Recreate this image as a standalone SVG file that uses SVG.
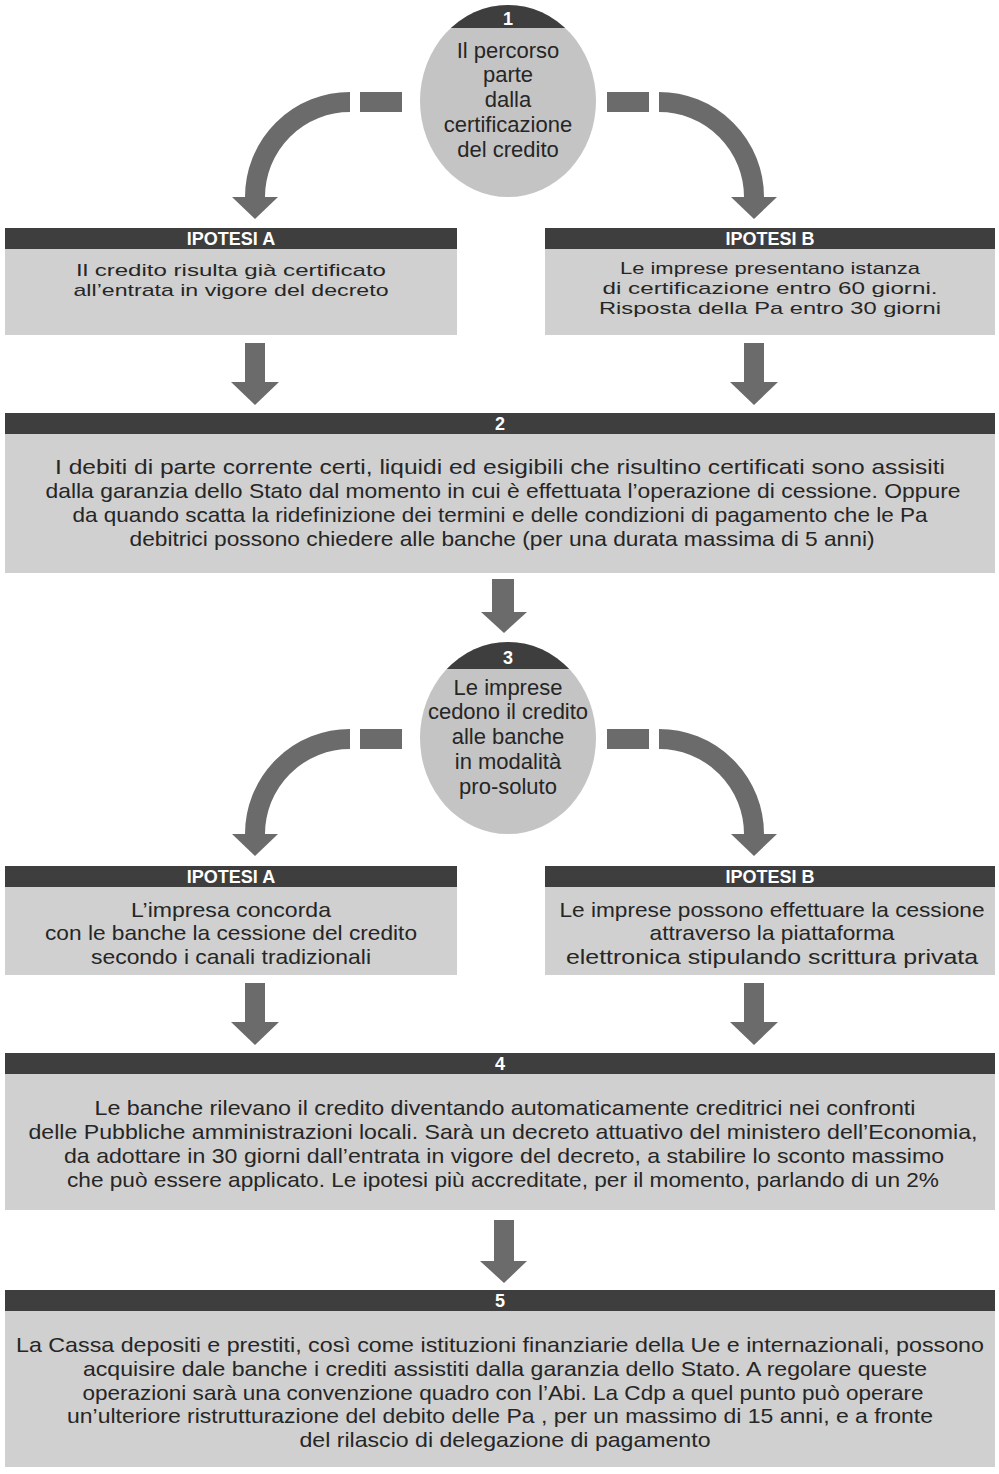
<svg xmlns="http://www.w3.org/2000/svg" width="999" height="1474" viewBox="0 0 999 1474">
<style>
.box{fill:#d0d0d0}
.hd{fill:#3e3e3e}
.circ{fill:#c4c4c4}
.arr{fill:#6b6b6b}
.arc{fill:none;stroke:#6b6b6b;stroke-width:20}
.t{font-family:"Liberation Sans",Arial,sans-serif;font-size:21px;fill:#262626;text-anchor:middle}
.s{font-size:17px}
.ct{font-family:"Liberation Sans",Arial,sans-serif;font-size:22px;fill:#262626;text-anchor:middle}
.h{font-family:"Liberation Sans",Arial,sans-serif;font-size:18px;font-weight:bold;fill:#ffffff;text-anchor:middle}
</style>
<defs>
<clipPath id="c1"><ellipse cx="508" cy="101" rx="88" ry="96"/></clipPath>
<clipPath id="c3"><ellipse cx="508" cy="738" rx="88" ry="96"/></clipPath>
</defs>
<rect x="0" y="0" width="999" height="1474" fill="#ffffff"/>

<g id="connectors">
  <rect class="arr" x="360" y="92" width="42" height="20"/>
  <path class="arc" d="M350,102 A95,95 0 0 0 255,197"/>
  <polygon class="arr" points="232,197 278,197 255,219"/>
  <rect class="arr" x="607" y="92" width="42" height="20"/>
  <path class="arc" d="M659,102 A95,95 0 0 1 754,197"/>
  <polygon class="arr" points="731,197 777,197 754,219"/>
  <rect class="arr" x="245" y="343" width="20" height="40"/>
  <polygon class="arr" points="231,382 279,382 255,405"/>
  <rect class="arr" x="744" y="343" width="20" height="40"/>
  <polygon class="arr" points="730,382 778,382 754,405"/>
  <rect class="arr" x="492" y="579" width="22" height="34"/>
  <polygon class="arr" points="481,612 527,612 504,633"/>
  <rect class="arr" x="360" y="729" width="42" height="20"/>
  <path class="arc" d="M350,739 A95,95 0 0 0 255,834"/>
  <polygon class="arr" points="232,834 278,834 255,856"/>
  <rect class="arr" x="607" y="729" width="42" height="20"/>
  <path class="arc" d="M659,739 A95,95 0 0 1 754,834"/>
  <polygon class="arr" points="731,834 777,834 754,856"/>
  <rect class="arr" x="245" y="983" width="20" height="40"/>
  <polygon class="arr" points="231,1022 279,1022 255,1045"/>
  <rect class="arr" x="744" y="983" width="20" height="40"/>
  <polygon class="arr" points="730,1022 778,1022 754,1045"/>
  <rect class="arr" x="494" y="1220" width="20" height="42"/>
  <polygon class="arr" points="480,1261 527,1261 504,1283"/>
</g>

<g id="node1">
  <ellipse class="circ" cx="508" cy="101" rx="88" ry="96"/>
  <rect class="hd" x="410" y="0" width="200" height="28" clip-path="url(#c1)"/>
  <text class="h" x="508" y="25">1</text>
  <text class="ct" x="508" y="58">Il percorso</text>
  <text class="ct" x="508" y="82">parte</text>
  <text class="ct" x="508" y="107">dalla</text>
  <text class="ct" x="508" y="132">certificazione</text>
  <text class="ct" x="508" y="157">del credito</text>
</g>

<g id="node1a">
  <rect class="box" x="5" y="228" width="452" height="107"/>
  <rect class="hd" x="5" y="228" width="452" height="21"/>
  <text class="h" x="231" y="245">IPOTESI A</text>
  <text class="t s" x="231" y="276" textLength="310" lengthAdjust="spacingAndGlyphs">Il credito risulta già certificato</text>
  <text class="t s" x="231" y="296" textLength="315" lengthAdjust="spacingAndGlyphs">all’entrata in vigore del decreto</text>
</g>

<g id="node1b">
  <rect class="box" x="545" y="228" width="450" height="107"/>
  <rect class="hd" x="545" y="228" width="450" height="21"/>
  <text class="h" x="770" y="245">IPOTESI B</text>
  <text class="t s" x="770" y="274" textLength="300" lengthAdjust="spacingAndGlyphs">Le imprese presentano istanza</text>
  <text class="t s" x="770" y="294" textLength="335" lengthAdjust="spacingAndGlyphs">di certificazione entro 60 giorni.</text>
  <text class="t s" x="770" y="314" textLength="342" lengthAdjust="spacingAndGlyphs">Risposta della Pa entro 30 giorni</text>
</g>

<g id="node2">
  <rect class="box" x="5" y="413" width="990" height="160"/>
  <rect class="hd" x="5" y="413" width="990" height="21"/>
  <text class="h" x="500" y="430">2</text>
  <text class="t" x="500" y="474" textLength="890" lengthAdjust="spacingAndGlyphs">I debiti di parte corrente certi, liquidi ed esigibili che risultino certificati sono assisiti</text>
  <text class="t" x="503" y="498" textLength="915" lengthAdjust="spacingAndGlyphs">dalla garanzia dello Stato dal momento in cui è effettuata l’operazione di cessione. Oppure</text>
  <text class="t" x="500" y="522" textLength="855" lengthAdjust="spacingAndGlyphs">da quando scatta la ridefinizione dei termini e delle condizioni di pagamento che le Pa</text>
  <text class="t" x="502" y="546" textLength="745" lengthAdjust="spacingAndGlyphs">debitrici possono chiedere alle banche (per una durata massima di 5 anni)</text>
</g>

<g id="node3">
  <ellipse class="circ" cx="508" cy="738" rx="88" ry="96"/>
  <rect class="hd" x="410" y="637" width="200" height="32" clip-path="url(#c3)"/>
  <text class="h" x="508" y="664">3</text>
  <text class="ct" x="508" y="695">Le imprese</text>
  <text class="ct" x="508" y="719">cedono il credito</text>
  <text class="ct" x="508" y="744">alle banche</text>
  <text class="ct" x="508" y="769">in modalità</text>
  <text class="ct" x="508" y="794">pro-soluto</text>
</g>

<g id="node3a">
  <rect class="box" x="5" y="866" width="452" height="109"/>
  <rect class="hd" x="5" y="866" width="452" height="21"/>
  <text class="h" x="231" y="883">IPOTESI A</text>
  <text class="t" x="231" y="917" textLength="200" lengthAdjust="spacingAndGlyphs">L’impresa concorda</text>
  <text class="t" x="231" y="940" textLength="372" lengthAdjust="spacingAndGlyphs">con le banche la cessione del credito</text>
  <text class="t" x="231" y="964" textLength="280" lengthAdjust="spacingAndGlyphs">secondo i canali tradizionali</text>
</g>

<g id="node3b">
  <rect class="box" x="545" y="866" width="450" height="109"/>
  <rect class="hd" x="545" y="866" width="450" height="21"/>
  <text class="h" x="770" y="883">IPOTESI B</text>
  <text class="t" x="772" y="917" textLength="425" lengthAdjust="spacingAndGlyphs">Le imprese possono effettuare la cessione</text>
  <text class="t" x="772" y="940" textLength="245" lengthAdjust="spacingAndGlyphs">attraverso la piattaforma</text>
  <text class="t" x="772" y="964" textLength="412" lengthAdjust="spacingAndGlyphs">elettronica stipulando scrittura privata</text>
</g>

<g id="node4">
  <rect class="box" x="5" y="1053" width="990" height="157"/>
  <rect class="hd" x="5" y="1053" width="990" height="21"/>
  <text class="h" x="500" y="1070">4</text>
  <text class="t" x="505" y="1115" textLength="821" lengthAdjust="spacingAndGlyphs">Le banche rilevano il credito diventando automaticamente creditrici nei confronti</text>
  <text class="t" x="503" y="1139" textLength="949" lengthAdjust="spacingAndGlyphs">delle Pubbliche amministrazioni locali. Sarà un decreto attuativo del ministero dell’Economia,</text>
  <text class="t" x="504" y="1163" textLength="880" lengthAdjust="spacingAndGlyphs">da adottare in 30 giorni dall’entrata in vigore del decreto, a stabilire lo sconto massimo</text>
  <text class="t" x="503" y="1187" textLength="872" lengthAdjust="spacingAndGlyphs">che può essere applicato. Le ipotesi più accreditate, per il momento, parlando di un 2%</text>
</g>

<g id="node5">
  <rect class="box" x="5" y="1290" width="990" height="177"/>
  <rect class="hd" x="5" y="1290" width="990" height="21"/>
  <text class="h" x="500" y="1307">5</text>
  <text class="t" x="500" y="1352" textLength="968" lengthAdjust="spacingAndGlyphs">La Cassa depositi e prestiti, così come istituzioni finanziarie della Ue e internazionali, possono</text>
  <text class="t" x="505" y="1376" textLength="844" lengthAdjust="spacingAndGlyphs">acquisire dale banche i crediti assistiti dalla garanzia dello Stato. A regolare queste</text>
  <text class="t" x="503" y="1400" textLength="841" lengthAdjust="spacingAndGlyphs">operazioni sarà una convenzione quadro con l’Abi. La Cdp a quel punto può operare</text>
  <text class="t" x="500" y="1423" textLength="866" lengthAdjust="spacingAndGlyphs">un’ulteriore ristrutturazione del debito delle Pa , per un massimo di 15 anni, e a fronte</text>
  <text class="t" x="505" y="1447" textLength="411" lengthAdjust="spacingAndGlyphs">del rilascio di delegazione di pagamento</text>
</g>
</svg>
